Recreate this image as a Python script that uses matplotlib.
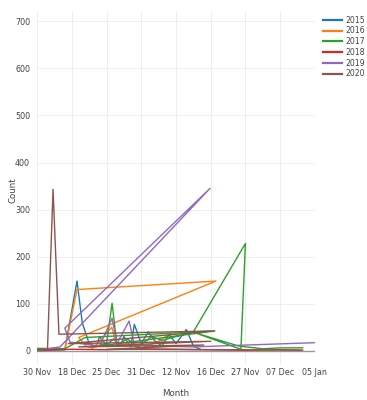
import matplotlib
matplotlib.use("Agg")
import matplotlib.pyplot as plt

# x positions are category indices along the month axis (tick every 10 categories)
tick_pos = [0, 10, 20, 30, 40, 50, 60, 70, 80]
tick_labels = ["30 Nov", "18 Dec", "25 Dec", "31 Dec", "12 Nov",
               "16 Dec", "27 Nov", "07 Dec", "05 Jan"]

x_2015 = [0, 8, 11.5, 13, 15, 17, 18, 20, 22, 24, 25, 27, 28, 30, 32, 34,
          36, 38, 40, 43, 45, 47]
y_2015 = [0, 2, 148, 60, 15, 8, 30, 12, 25, 10, 30, 8, 56, 15, 40, 20,
          10, 35, 15, 45, 10, 3]

x_2016 = [0, 5, 8, 11.5, 51.5, 12, 14, 16, 18, 21.5, 23, 26, 30, 35, 38]
y_2016 = [0, 5, 3, 130, 148, 28, 10, 5, 20, 50, 10, 15, 5, 20, 35]

x_2017 = [0, 8, 13.8, 51.2, 16, 20, 21.6, 23, 26, 29, 33, 36, 45, 60,
          58.7, 45.5, 58, 65, 70, 76.5]
y_2017 = [5, 4, 28, 42, 8, 15, 101, 12, 25, 8, 30, 22, 40, 228,
          3, 38, 10, 4, 6, 6]

x_2018 = [0, 10, 20, 30, 40, 50, 60, 70, 76]
y_2018 = [1, 3, 2, 4, 3, 2, 1, 2, 1]

x_2019 = [0, 6.6, 49.8, 8, 9.5, 18, 21.6, 23, 26.5, 28, 35, 45, 60, 80]
y_2019 = [1, 8, 345, 48, 18, 10, 69, 15, 63, 14, 10, 8, 12, 17]

x_2020 = [0, 3, 4.6, 6.3, 51, 9, 50, 12, 48, 20, 60, 76.5]
y_2020 = [2, 3, 343, 35, 42, 15, 20, 8, 12, 3, 2, 1]

years = ["2015", "2016", "2017", "2018", "2019", "2020"]
xs = [x_2015, x_2016, x_2017, x_2018, x_2019, x_2020]
ys = [y_2015, y_2016, y_2017, y_2018, y_2019, y_2020]
colors = ["#1f77b4", "#ff7f0e", "#2ca02c", "#d62728", "#9467bd", "#8c564b"]

fig = plt.figure(figsize=(3.67, 4.0), dpi=100)
ax = fig.add_axes([0.101, 0.088, 0.757, 0.882])

ax.axhline(0, color="#999999", lw=1.0, zorder=1)
for yr, x, y, c in zip(years, xs, ys, colors):
    ax.plot(x, y, color=c, lw=1.0, label=yr, zorder=2)

ax.set_xlim(0, 80)
ax.set_ylim(-30, 720)
ax.set_xticks(tick_pos)
ax.set_xticklabels(tick_labels)
ax.set_yticks(range(0, 701, 100))
ax.grid(True, color="#eeeeee", lw=0.7)
ax.set_axisbelow(True)
for s in ax.spines.values():
    s.set_visible(False)
ax.tick_params(length=0, labelsize=5.8, colors="#444444")
ax.tick_params(axis="x", pad=2)
ax.tick_params(axis="y", pad=5)

# axis titles placed in figure coords so they sit where the reference has them
fig.text(0.48, 0.017, "Month", fontsize=6.2, color="#444444",
         ha="center", va="center")
fig.text(0.035, 0.525, "Count", fontsize=6.2, color="#444444",
         ha="center", va="center", rotation=90)

leg = ax.legend(loc="upper left", bbox_to_anchor=(1.01, 1.005), frameon=False,
                fontsize=5.6, handlelength=2.4, labelspacing=0.22,
                borderaxespad=0.3, handletextpad=0.5, labelcolor="#444444")
for h in leg.get_lines():
    h.set_linewidth(1.6)

fig.savefig("out.png", dpi=100)
